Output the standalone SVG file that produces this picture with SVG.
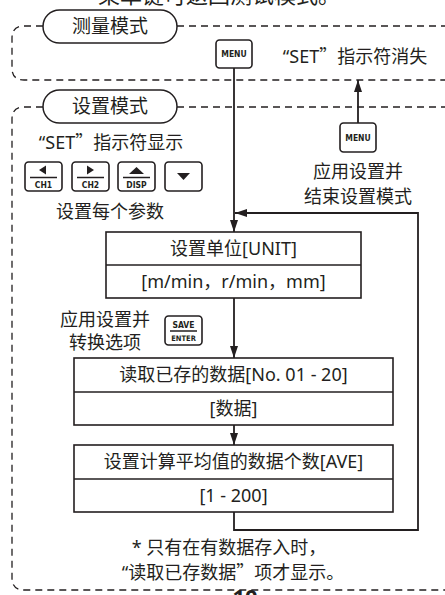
<svg xmlns="http://www.w3.org/2000/svg" width="445" height="595" viewBox="0 0 445 595">
<defs>
<style>
text{font-family:"Noto Sans","Noto Sans CJK SC",sans-serif;fill:#231f20;text-anchor:middle}
.t18{font-size:18px}
.key{font-family:"DejaVu Sans Condensed","DejaVu Sans","Noto Sans",sans-serif;font-weight:bold;font-size:8.5px}
.btn{fill:#fff;stroke:#231f20;stroke-width:1.6}
.box{fill:#fff;stroke:#231f20;stroke-width:1.6}
.dash{fill:none;stroke:#231f20;stroke-width:1.3;stroke-dasharray:7 5}
.pill{fill:#fff;stroke:#231f20;stroke-width:1.5}
.wire{fill:none;stroke:#231f20;stroke-width:1.8}
.tri{fill:#231f20}
.cj{font-family:"Noto Sans CJK SC",sans-serif}
</style>
<marker id="ah" viewBox="0 0 12 8" refX="12" refY="4" markerWidth="12" markerHeight="8" markerUnits="userSpaceOnUse" orient="auto">
<path d="M0 0 L12 4 L0 8 Z" fill="#231f20"/>
</marker>
</defs>
<rect width="445" height="595" fill="#fff"/>

<text x="212" y="3" style="font-size:22px">• 菜单键可返回测试模式。</text>

<g id="region-measure">
<path class="dash" d="M43 26 H24 Q12 26 12 38 V68 Q12 80 24 80 H445"/>
<path class="dash" d="M177 26 H445"/>
</g>
<g id="region-setting">
<path class="dash" d="M43 107 H24 Q12 107 12 119 V578 Q12 590 24 590 H445"/>
<path class="dash" d="M177 107 H445"/>
</g>

<g id="connectors">
<path class="wire" d="M234 68 V232" marker-end="url(#ah)"/>
<path class="wire" d="M358 123 V80" marker-end="url(#ah)"/>
<path class="wire" d="M234 298 V358" marker-end="url(#ah)"/>
<path class="wire" d="M234 425 V445" marker-end="url(#ah)"/>
<path class="wire" d="M234 512 V530 H418 V213 H235" marker-end="url(#ah)"/>
</g>

<g id="pill-measure">
<rect class="pill" x="43" y="10" width="134" height="33" rx="16.5"/>
<text x="110" y="33" style="font-size:19px">测量模式</text>
</g>
<g id="pill-setting">
<rect class="pill" x="43" y="90" width="134" height="33" rx="16.5"/>
<text x="110" y="113" style="font-size:19px">设置模式</text>
</g>

<g id="menu-1">
<rect class="btn" x="216" y="40" width="36" height="28" rx="3.5"/>
<text class="key" x="234" y="57">MENU</text>
</g>
<g id="label-set-off">
<text class="t18" x="355" y="63">“SET<tspan class="cj">”</tspan>指示符消失</text>
</g>

<g id="menu-2">
<rect class="btn" x="340" y="123" width="36" height="29" rx="3.5"/>
<text class="key" x="358" y="140.5">MENU</text>
</g>
<g id="label-apply-exit">
<text class="t18" x="358" y="178">应用设置并</text>
<text class="t18" x="358" y="203">结束设置模式</text>
</g>

<g id="label-set-on">
<text class="t18" x="111" y="149">“SET<tspan class="cj">”</tspan>指示符显示</text>
</g>

<g id="key-ch1">
<rect class="btn" x="25" y="162" width="37" height="29" rx="3.5"/>
<path class="tri" d="M39 170 L46 165.5 V174.5 Z"/>
<line x1="30" y1="177.5" x2="57" y2="177.5" stroke="#231f20" stroke-width="1.5"/>
<text class="key" x="43.5" y="187.5">CH1</text>
</g>
<g id="key-ch2">
<rect class="btn" x="72" y="162" width="37" height="29" rx="3.5"/>
<path class="tri" d="M94 170 L87 165.5 V174.5 Z"/>
<line x1="77" y1="177.5" x2="104" y2="177.5" stroke="#231f20" stroke-width="1.5"/>
<text class="key" x="90.5" y="187.5">CH2</text>
</g>
<g id="key-disp">
<rect class="btn" x="118" y="162" width="37" height="29" rx="3.5"/>
<path class="tri" d="M136.5 167 L144 174 H129 Z"/>
<line x1="123" y1="177.5" x2="150" y2="177.5" stroke="#231f20" stroke-width="1.5"/>
<text class="key" x="136.5" y="187.5">DISP</text>
</g>
<g id="key-down">
<rect class="btn" x="165" y="162" width="37" height="29" rx="3.5"/>
<path class="tri" d="M177 173 H190 L183.5 180 Z"/>
</g>
<g id="label-each">
<text class="t18" x="110" y="218">设置每个参数</text>
</g>

<g id="box-unit">
<rect class="box" x="106" y="232" width="255" height="66"/>
<line x1="106" y1="265" x2="361" y2="265" stroke="#231f20" stroke-width="1.6"/>
<text class="t18" x="233.5" y="255">设置单位[UNIT]</text>
<text class="t18" x="233.5" y="288">[m/min，r/min，mm]</text>
</g>

<g id="label-apply-next">
<text class="t18" x="105" y="326">应用设置并</text>
<text class="t18" x="105" y="349">转换选项</text>
</g>
<g id="key-save">
<rect class="btn" x="165" y="316" width="37" height="29" rx="3.5"/>
<text class="key" x="183.5" y="328">SAVE</text>
<line x1="170" y1="331" x2="197" y2="331" stroke="#231f20" stroke-width="1.5"/>
<text class="key" x="183.5" y="341" style="font-size:7.5px">ENTER</text>
</g>

<g id="box-read">
<rect class="box" x="74" y="358" width="319" height="67"/>
<line x1="74" y1="392" x2="393" y2="392" stroke="#231f20" stroke-width="1.6"/>
<text class="t18" x="233.5" y="381">读取已存的数据[No. 01 - 20]</text>
<text class="t18" x="233.5" y="415">[数据]</text>
</g>

<g id="box-ave">
<rect class="box" x="74" y="445" width="319" height="67"/>
<line x1="74" y1="479" x2="393" y2="479" stroke="#231f20" stroke-width="1.6"/>
<text class="t18" x="233.5" y="468">设置计算平均值的数据个数[AVE]</text>
<text class="t18" x="233.5" y="502">[1 - 200]</text>
</g>

<g id="note">
<text class="t18" x="229" y="554">* 只有在有数据存入时，</text>
<text class="t18" x="233" y="579">“读取已存数据<tspan class="cj">”</tspan>项才显示。</text>
</g>

<text x="245" y="605" style="font-size:22px;font-weight:bold">10</text>
</svg>
